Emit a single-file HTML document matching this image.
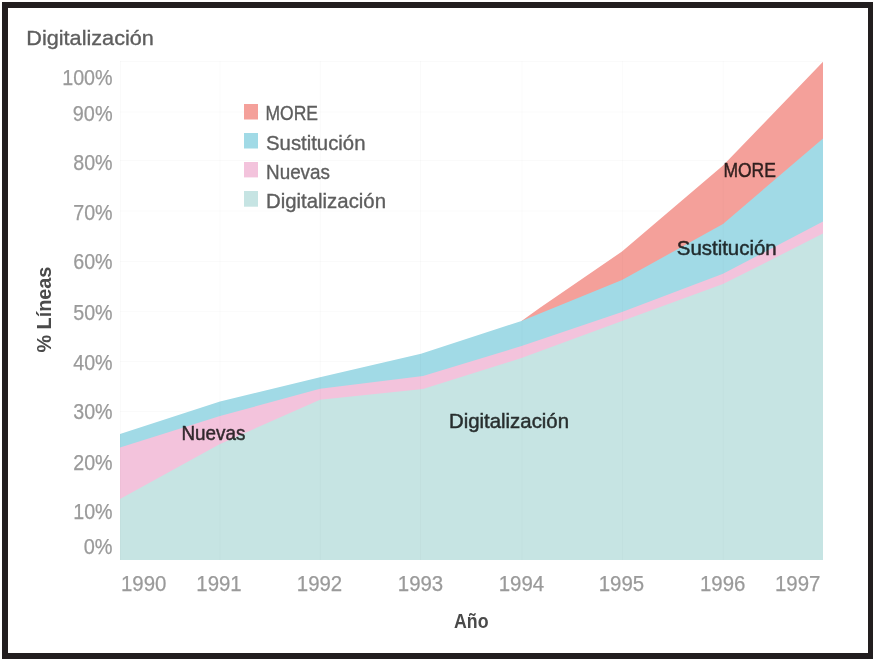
<!DOCTYPE html>
<html><head><meta charset="utf-8"><title>Digitalización</title>
<style>
html,body{margin:0;padding:0;background:#fff;width:874px;height:659px;overflow:hidden}
svg{display:block;position:absolute;left:0;top:0;filter:blur(0.4px)}
text{font-family:"Liberation Sans",sans-serif}
</style></head>
<body>
<svg width="874" height="659" viewBox="0 0 874 659" xmlns="http://www.w3.org/2000/svg">
<rect x="0" y="0" width="874" height="659" fill="#fff"/>
<!-- gridlines -->
<g stroke="#000" stroke-opacity="0.02" stroke-width="1" fill="none">
<line x1="120" y1="61.5" x2="823" y2="61.5"/>
<line x1="120" y1="112" x2="823" y2="112"/>
<line x1="120" y1="160.5" x2="823" y2="160.5"/>
<line x1="120" y1="211" x2="823" y2="211"/>
<line x1="120" y1="261.5" x2="823" y2="261.5"/>
<line x1="120" y1="311.7" x2="823" y2="311.7"/>
<line x1="120" y1="361.5" x2="823" y2="361.5"/>
<line x1="120" y1="411.5" x2="823" y2="411.5"/>
<line x1="120" y1="461" x2="823" y2="461"/>
<line x1="120" y1="510.5" x2="823" y2="510.5"/>
</g>
<!-- areas -->
<path fill="#f4a09a" d="M521.5,321 L540,307.8 L622,251.5 L723,165.5 L823,61.8 L823,560 L521.5,560Z"/>
<path fill="#a1dae6" d="M120,434 L220,401.5 L320,377.2 L421,353.7 L521.5,321 L622,280 L723,224 L823,138.5 L823,560 L120,560Z"/>
<path fill="#f3c3dc" d="M120,447.4 L220,416 L320,388.7 L423,376 L521.5,346 L622,312 L723,273.7 L823,221.6 L823,560 L120,560Z"/>
<path fill="#c6e4e3" d="M120,498.9 L220,443.9 L320,399.8 L423,389 L521.5,358 L622,321 L723,284.1 L823,233.6 L823,560 L120,560Z"/>

<g stroke="#000" stroke-opacity="0.018" stroke-width="1" fill="none">
<line x1="120.5" y1="61" x2="120.5" y2="560"/>
<line x1="220" y1="61" x2="220" y2="560"/>
<line x1="320.3" y1="61" x2="320.3" y2="560"/>
<line x1="420.5" y1="61" x2="420.5" y2="560"/>
<line x1="522" y1="61" x2="522" y2="560"/>
<line x1="622.7" y1="61" x2="622.7" y2="560"/>
<line x1="723.2" y1="61" x2="723.2" y2="560"/>
</g>
<!-- title -->
<text x="26.3" y="45.4" font-size="20.7" fill="#5e5e5e" stroke="#5e5e5e" stroke-width="0.35" textLength="127.6" lengthAdjust="spacingAndGlyphs">Digitalización</text>

<!-- legend -->
<rect x="244" y="104" width="14" height="15.5" fill="#f4a09a"/>
<rect x="244" y="133" width="14" height="15.5" fill="#a1dae6"/>
<rect x="244" y="162" width="14" height="15.4" fill="#f3c3dc"/>
<rect x="244" y="191" width="14" height="15.7" fill="#c6e4e3"/>
<g font-size="20.2" fill="#5e5e5e" stroke="#5e5e5e" stroke-width="0.35">
<text x="265.5" y="120.3" textLength="52.5" lengthAdjust="spacingAndGlyphs">MORE</text>
<text x="266" y="149.7" textLength="99.5" lengthAdjust="spacingAndGlyphs">Sustitución</text>
<text x="266" y="178.6" textLength="64" lengthAdjust="spacingAndGlyphs">Nuevas</text>
<text x="266" y="207.5" textLength="120" lengthAdjust="spacingAndGlyphs">Digitalización</text>
</g>

<!-- y axis labels -->
<g font-size="21.8" fill="#9a9a9a" stroke="#9a9a9a" stroke-width="0.25" text-anchor="end">
<text x="112.6" y="85.3" textLength="50.4" lengthAdjust="spacingAndGlyphs">100%</text>
<text x="112.6" y="120.7" textLength="39.8" lengthAdjust="spacingAndGlyphs">90%</text>
<text x="112.6" y="169.8" textLength="39.4" lengthAdjust="spacingAndGlyphs">80%</text>
<text x="112.6" y="219.5" textLength="39.4" lengthAdjust="spacingAndGlyphs">70%</text>
<text x="112.6" y="269.4" textLength="39.4" lengthAdjust="spacingAndGlyphs">60%</text>
<text x="112.6" y="320.4" textLength="39.4" lengthAdjust="spacingAndGlyphs">50%</text>
<text x="112.6" y="369.5" textLength="39.4" lengthAdjust="spacingAndGlyphs">40%</text>
<text x="112.6" y="419.4" textLength="39.4" lengthAdjust="spacingAndGlyphs">30%</text>
<text x="112.6" y="469.7" textLength="39.4" lengthAdjust="spacingAndGlyphs">20%</text>
<text x="112.6" y="518.9" textLength="39.4" lengthAdjust="spacingAndGlyphs">10%</text>
<text x="112.6" y="554.2" textLength="28.8" lengthAdjust="spacingAndGlyphs">0%</text>
</g>
<text x="51.2" y="352.6" font-size="20" font-weight="bold" fill="#4a4a4a" transform="rotate(-90 51.2 352.6)" textLength="86" lengthAdjust="spacingAndGlyphs">% Líneas</text>

<!-- x axis labels -->
<g font-size="21.8" fill="#9a9a9a" stroke="#9a9a9a" stroke-width="0.25">
<text x="121.0" y="591.2" textLength="45.4" lengthAdjust="spacingAndGlyphs">1990</text>
<text x="196.3" y="591.2" textLength="45.4" lengthAdjust="spacingAndGlyphs">1991</text>
<text x="296.8" y="591.2" textLength="45.4" lengthAdjust="spacingAndGlyphs">1992</text>
<text x="397.8" y="591.2" textLength="45.4" lengthAdjust="spacingAndGlyphs">1993</text>
<text x="498.7" y="591.2" textLength="45.4" lengthAdjust="spacingAndGlyphs">1994</text>
<text x="598.7" y="591.2" textLength="45.4" lengthAdjust="spacingAndGlyphs">1995</text>
<text x="700.0" y="591.2" textLength="45.4" lengthAdjust="spacingAndGlyphs">1996</text>
<text x="775.0" y="591.2" textLength="45.4" lengthAdjust="spacingAndGlyphs">1997</text>
</g>
<text x="454" y="627.6" font-size="20.8" font-weight="bold" fill="#4a4a4a" textLength="34.5" lengthAdjust="spacingAndGlyphs">Año</text>

<!-- in-chart labels -->
<g font-size="20.4" fill="#000" stroke="#000" stroke-width="0.5" opacity="0.8">
<text x="181.4" y="440.2" textLength="64" lengthAdjust="spacingAndGlyphs">Nuevas</text>
<text x="449" y="428" textLength="120" lengthAdjust="spacingAndGlyphs">Digitalización</text>
<text x="676.8" y="254.7" textLength="99.9" lengthAdjust="spacingAndGlyphs">Sustitución</text>
<text x="723.4" y="177.3" textLength="52.5" lengthAdjust="spacingAndGlyphs">MORE</text>
</g>

<!-- frame -->
<g fill="#221e1f">
<rect x="2" y="2" width="871" height="6"/>
<rect x="2" y="653" width="871" height="6"/>
<rect x="2" y="2" width="6" height="657"/>
<rect x="868" y="2" width="5" height="657"/>
</g>
</svg>
</body></html>
